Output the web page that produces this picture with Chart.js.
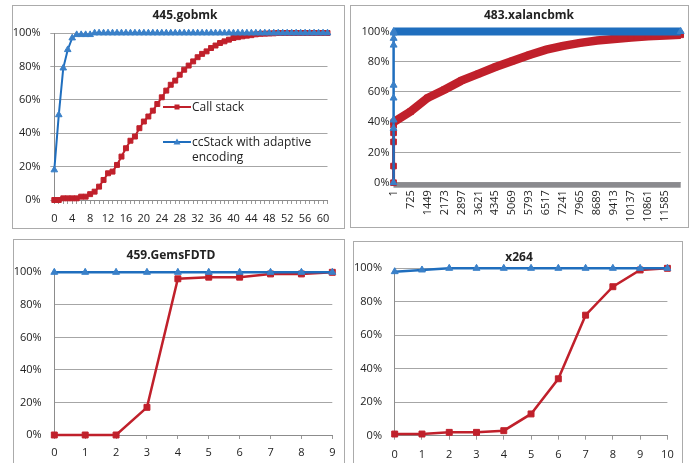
<!DOCTYPE html>
<html><head><meta charset="utf-8">
<script src="https://cdn.jsdelivr.net/npm/chart.js@4.4.1/dist/chart.umd.min.js"></script>
<style>
html,body{margin:0;padding:0;background:#fff;}
body{width:694px;height:463px;overflow:hidden;position:relative;font-family:'Open Sans',sans-serif;color:#222;}
.panel{position:absolute;border:1px solid #ababab;box-sizing:border-box;}
.panel canvas{position:absolute;left:0;top:0;}
.title{position:absolute;font-weight:bold;font-size:12px;line-height:16px;white-space:nowrap;transform:translateX(-50%);color:#222;}
.leg{position:absolute;font-size:12px;line-height:15px;color:#222;white-space:nowrap;}
</style></head>
<body>
<div class="panel" style="left:12px;top:5px;width:333px;height:224px"><canvas id="c1" width="331" height="222"></canvas></div>
<div class="panel" style="left:350px;top:5px;width:339px;height:223px"><canvas id="c2" width="337" height="221"></canvas></div>
<div class="panel" style="left:13px;top:239px;width:332px;height:240px"><canvas id="c3" width="330" height="230"></canvas></div>
<div class="panel" style="left:353px;top:241px;width:330px;height:240px"><canvas id="c4" width="328" height="228"></canvas></div>
<div class="title" style="left:185px;top:7px">445.gobmk</div>
<div class="title" style="left:529px;top:7px">483.xalancbmk</div>
<div class="title" style="left:171px;top:247px">459.GemsFDTD</div>
<div class="title" style="left:519px;top:249px">x264</div>
<svg style="position:absolute;left:162px;top:100px" width="30" height="50">
 <line x1="1" y1="7" x2="29" y2="7" stroke="#C0202B" stroke-width="2"/>
 <rect x="12.5" y="4.5" width="5" height="5" fill="#C0202B"/>
 <line x1="1" y1="42" x2="29" y2="42" stroke="#1F6EBE" stroke-width="2"/>
 <polygon points="15,38.5 18.5,44.5 11.5,44.5" fill="#3A80C8"/>
</svg>
<div class="leg" style="left:192px;top:99px">Call stack</div>
<div class="leg" style="left:192px;top:134px">ccStack with adaptive<br>encoding</div>
<script>
// ---------- data ----------
const gobmkCats = [0,1,2,3,4,5,6,7,8,9,10,11,12,13,14,15,16,17,18,19,20,21,22,23,24,25,26,27,28,29,30,31,32,33,34,35,36,37,38,39,40,41,42,43,44,45,46,47,48,49,50,51,52,53,54,55,56,57,58,59,60,61];
const gobmkCallStack = [0,0,1,1,1,1,2,2,3.5,5,8,12,16,17,21,26,31,35.5,38,43,47,50,53.5,57.5,61.5,65.5,69,71.5,75,78,80.5,83,85.5,87.5,89,91,92.5,94,95,96,97,97.5,98,98.4,98.7,99.2,99.5,99.6,99.7,99.8,100,100,100,100,100,100,100,100,100,100,100,100];
const gobmkCcStack = [18,51,79,90,97,99,99,99,99,100,100,100,100,100,100,100,100,100,100,100,100,100,100,100,100,100,100,100,100,100,100,100,100,100,100,100,100,100,100,100,100,100,100,100,100,100,100,100,100,100,100,100,100,100,100,100,100,100,100,100,100,100];

const xalancX = [1,2,3,4,5,6,725,1449,2173,2897,3621,4345,5069,5793,6517,7241,7965,8689,9413,10137,10861,11585,12250];
const xalancCallStack = [0,11,27,33,38,40,47,56,61.5,67.5,72,76.5,80.5,84.5,88,90.5,92.5,94,95,96,96.8,97.3,97.8];
const xalancCcX = [1,2,3,4,5,6,7,8,9,12250];
const xalancCcStack = [0,36,41.5,56,64.5,91,95.5,99,100,100];
const xalancTicks = [1,725,1449,2173,2897,3621,4345,5069,5793,6517,7241,7965,8689,9413,10137,10861,11585];

const gemsCats = [0,1,2,3,4,5,6,7,8,9];
const gemsCallStack = [0,0,0,17,96,97,97,99,99,100];
const gemsCcStack = [100,100,100,100,100,100,100,100,100,100];

const x264Cats = [0,1,2,3,4,5,6,7,8,9,10];
const x264CallStack = [1,1,2,2,3,13,34,72,89,99,100];
const x264CcStack = [98,99,100,100,100,100,100,100,100,100,100];

const yTicks = [0,20,40,60,80,100];

// ---------- style ----------
Chart.defaults.font.family = "'Open Sans', sans-serif";
Chart.defaults.font.size = 11;
Chart.defaults.color = '#222';
const RED='#C0202B', BLUE='#1F6EBE', BLUE_M='#3A80C8', GRID='#a6a6a6', AXIS='#8c8c8c';

function yScale(width, pad, tick){
  return {
    min:0, max:100,
    afterBuildTicks: s => { s.ticks = yTicks.map(v=>({value:v})); },
    ticks:{padding:pad, callback:v=>v+'%'},
    grid:{color:GRID, lineWidth:1, drawTicks:tick>0, tickLength:tick, tickColor:GRID},
    border:{display:true, color:AXIS, width:1},
    afterFit: s => { s.width = width; }
  };
}
function xCat(height, pad, every){
  return {
    type:'category', offset:false,
    ticks:{autoSkip:false, maxRotation:0, minRotation:0, padding:pad,
      callback:function(v,i){ return i%every===0 ? this.getLabelForValue(v) : ''; }},
    grid:{drawOnChartArea:false, drawTicks:true, tickLength:4, tickColor:'#999'},
    border:{display:true, color:AXIS, width:1},
    afterFit: s => { s.height = height; }
  };
}
function common(padR, top, scales){
  return {
    responsive:false, animation:false, events:[],
    layout:{padding:{left:0, right:padR, top:top, bottom:0}},
    plugins:{legend:{display:false}, title:{display:false}, tooltip:{enabled:false}},
    scales: scales
  };
}
function blueDs(data, lw, r){
  return {data:data, borderColor:BLUE, borderWidth:lw, pointStyle:'triangle', pointRadius:r,
    pointBackgroundColor:BLUE_M, pointBorderColor:BLUE_M, pointBorderWidth:1, clip:false, tension:0};
}
function redDs(data, lw, r){
  return {data:data, borderColor:RED, borderWidth:lw, pointStyle:'rect', pointRadius:r,
    pointBackgroundColor:RED, pointBorderColor:RED, pointBorderWidth:1, clip:false, tension:0};
}

// Panel 1
new Chart(document.getElementById('c1'), {
  type:'line',
  data:{labels:gobmkCats, datasets:[blueDs(gobmkCcStack,2,3.8), redDs(gobmkCallStack,2,3.5)]},
  options: common(16.5, 27, {x:xCat(28, 8, 4), y:yScale(41.3, 9.6, 4)})
});

// Panel 2
const bandPlugin = {
  id:'band',
  beforeDatasetsDraw(chart){
    const xs = chart.scales.x, ys = chart.scales.y, ctx = chart.ctx;
    const x0 = xs.getPixelForValue(xalancTicks[0]);
    const y0 = ys.getPixelForValue(0);
    ctx.save();
    ctx.fillStyle = '#8a8a8e';
    ctx.fillRect(x0, y0-0.5, chart.chartArea.right - x0, 5.5);
    ctx.restore();
  }
};
const ccPts = xalancCcX.map((x,i)=>({x:x, y:xalancCcStack[i]}));
const csPts = xalancX.map((x,i)=>({x:x, y:xalancCallStack[i]}));
const b2 = blueDs(ccPts, 2.5, 4);
b2.segment = {borderWidth: c => c.p0DataIndex >= 8 ? 8 : 2.5};
const r2 = redDs(csPts, 3, 4);
r2.segment = {borderWidth: c => c.p0DataIndex >= 5 ? 8.5 : 3};
new Chart(document.getElementById('c2'), {
  type:'line',
  data:{datasets:[b2, r2]},
  options: common(7.3, 25.5, {
    x:{type:'linear', min:1, max:12250,
       afterBuildTicks: s => { s.ticks = xalancTicks.map(v=>({value:v})); },
       ticks:{autoSkip:false, minRotation:90, maxRotation:90, padding:7.5, callback:v=>String(v)},
       grid:{display:false, drawTicks:false},
       border:{display:false},
       afterFit: s => { s.height = 44.3; }},
    y:yScale(42.5, 4, 0)
  }),
  plugins:[bandPlugin]
});

// Panel 3
new Chart(document.getElementById('c3'), {
  type:'line',
  data:{labels:gemsCats, datasets:[blueDs(gemsCcStack,2.5,4), redDs(gemsCallStack,2.5,4.2)]},
  options: common(11.7, 32.3, {x:xCat(35, 7.7, 1), y:yScale(40.3, 12.6, 0)})
});

// Panel 4
new Chart(document.getElementById('c4'), {
  type:'line',
  data:{labels:x264Cats, datasets:[blueDs(x264CcStack,2.5,4), redDs(x264CallStack,2.5,4.2)]},
  options: common(13, 26.3, {x:xCat(34.3, 8.3, 1), y:yScale(40.7, 12.7, 0)})
});
</script>
</body></html>
